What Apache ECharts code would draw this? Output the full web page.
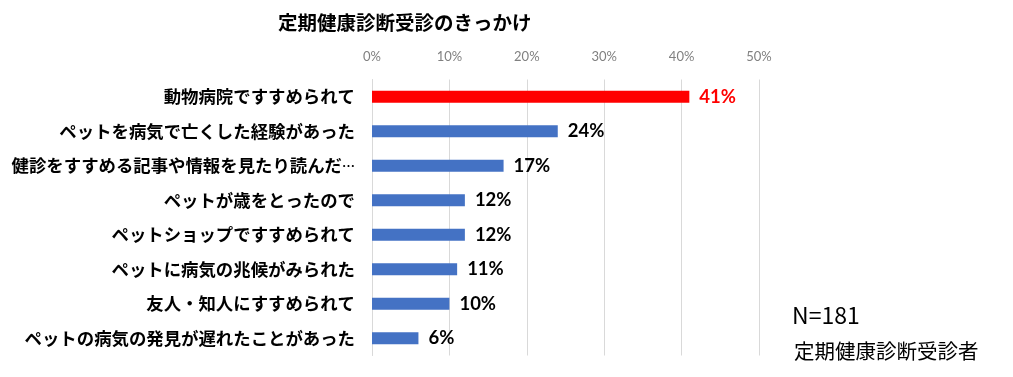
<!DOCTYPE html>
<html>
<head>
<meta charset="utf-8">
<script src="https://cdn.jsdelivr.net/npm/echarts@6/dist/echarts.min.js"></script>
<style>
html,body{margin:0;padding:0;background:#fff;}
#c{width:1013px;height:377px;}
</style>
</head>
<body>
<div id="c"></div>
<script>
var categories = [
  "動物病院ですすめられて",
  "ペットを病気で亡くした経験があった",
  "健診をすすめる記事や情報を見たり読んだ…",
  "ペットが歳をとったので",
  "ペットショップですすめられて",
  "ペットに病気の兆候がみられた",
  "友人・知人にすすめられて",
  "ペットの病気の発見が遅れたことがあった"
];
var values = [41, 24, 17, 12, 12, 11, 10, 6];
var tickValues = [0, 10, 20, 30, 40, 50];
var highlightIndex = 0;

var chart = echarts.init(document.getElementById('c'));
var data = values.map(function (v, i) {
  var hi = i === highlightIndex;
  return {
    value: v,
    itemStyle: { color: hi ? '#FF0000' : '#4472C4' },
    label: { color: hi ? '#FF0000' : '#000000' }
  };
});

var labelFont = { color: '#000', fontFamily: 'Noto Sans CJK JP', fontWeight: 'bold', fontSize: 17.4, verticalAlign: 'middle' };

chart.setOption({
  animation: false,
  backgroundColor: '#ffffff',
  title: [
    { text: '定期健康診断受診のきっかけ', left: 273, top: 8,
      textStyle: { fontFamily: 'Noto Sans CJK JP', fontWeight: 'bold', fontSize: 19.5, color: '#000' } },
    { text: 'N=181', left: 787, top: 299,
      textStyle: { fontFamily: 'Noto Sans CJK JP', fontWeight: 'normal', fontSize: 23, color: '#000' } },
    { text: '定期健康診断受診者', left: 789, top: 336,
      textStyle: { fontFamily: 'Noto Sans CJK JP', fontWeight: 'normal', fontSize: 20.5, color: '#000' } }
  ],
  grid: { left: 372, right: 254, top: 79.5, bottom: 21.5, containLabel: false },
  xAxis: {
    type: 'value', position: 'top',
    min: tickValues[0], max: tickValues[tickValues.length - 1], interval: 10,
    axisLine: { show: false }, axisTick: { show: false },
    splitLine: { show: true, lineStyle: { color: '#D9D9D9', width: 1 } },
    axisLabel: { formatter: '{value}%', color: '#808080', fontFamily: 'Lato', fontSize: 13, margin: 16 }
  },
  yAxis: {
    type: 'category', inverse: true, data: categories,
    axisLine: { show: true, lineStyle: { color: '#D9D9D9' } },
    axisTick: { show: false },
    axisLabel: {
      color: '#000', fontFamily: 'Noto Sans CJK JP', fontWeight: 'bold', fontSize: 17.4, margin: 17,
      formatter: function (s) {
        var i = s.indexOf('…');
        if (i < 0) return '{t|' + s + '}';
        return '{t|' + s.slice(0, i) + '}{e|…}';
      },
      rich: {
        t: labelFont,
        e: { color: '#000', fontFamily: 'Noto Sans CJK JP', fontWeight: 'bold', fontSize: 13, verticalAlign: 'middle' }
      }
    }
  },
  series: [{
    type: 'bar', data: data, barWidth: 12,
    label: { show: true, position: 'right', distance: 10, formatter: '{c}%',
      fontFamily: 'Lato', fontWeight: 'bold', fontSize: 18.5 }
  }]
});
</script>
</body>
</html>
